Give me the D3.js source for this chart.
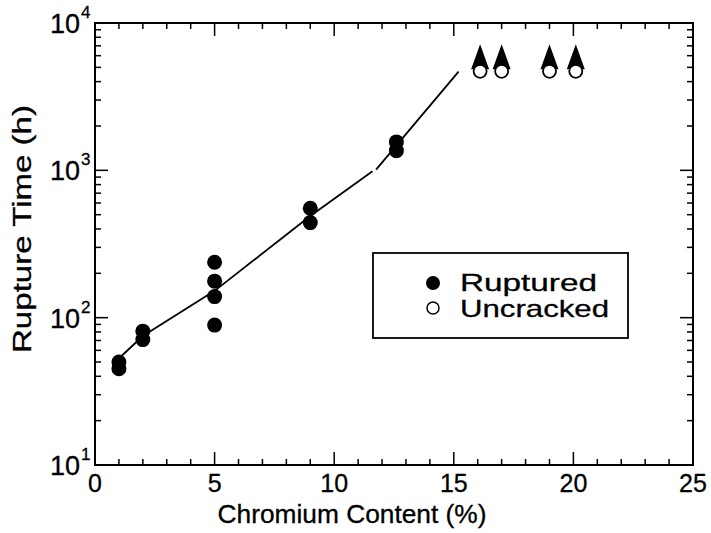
<!DOCTYPE html>
<html><head><meta charset="utf-8">
<script src="https://cdn.jsdelivr.net/npm/d3@7"></script>
<style>body{margin:0;background:#fff}svg{display:block}text{font-family:"Liberation Sans",Arial,Helvetica,sans-serif;fill:#000;stroke:#000;stroke-width:0.3px}</style>
</head><body><svg id="c" width="711" height="533"></svg>
<script>
// Data
const rupturedCr   = [1, 1, 2, 2, 5, 5, 5, 5, 9, 9, 12.6, 12.6];
const rupturedTime = [50, 45, 81, 71, 238, 177, 139, 89, 553, 442, 1560, 1360];
const uncrackedCr   = [16.1, 17.0, 19.0, 20.1];
const uncrackedTime = [4700, 4700, 4700, 4700];
const fitLine1Cr   = [0.95, 2, 5, 9, 11.6];
const fitLine1Time = [52, 75, 152, 490, 985];
const fitLine2Cr   = [11.75, 15.2];
const fitLine2Time = [1010, 4680];
const xTicks = [0, 5, 10, 15, 20, 25];
const yDecades = [1, 2, 3, 4];
const legendLabels = ["Ruptured", "Uncracked"];

const svg = d3.select("#c");
const L = 95, R = 693, T = 23, B = 465;
const x = d3.scaleLinear().domain([0, 25]).range([L, R]);
const y = d3.scaleLog().domain([10, 10000]).range([B, T]);

const g = svg.append("g");
g.append("rect").attr("x", L).attr("y", T).attr("width", R - L).attr("height", B - T)
  .attr("fill", "none").attr("stroke", "#000").attr("stroke-width", 2);

const xMinor = d3.range(0, 26, 1);
xMinor.forEach(v => {
  const major = v % 5 === 0;
  const len = major ? 13 : 6;
  g.append("line").attr("x1", x(v)).attr("x2", x(v)).attr("y1", B).attr("y2", B - len).attr("stroke", "#000").attr("stroke-width", 1.5);
  g.append("line").attr("x1", x(v)).attr("x2", x(v)).attr("y1", T).attr("y2", T + len).attr("stroke", "#000").attr("stroke-width", 1.5);
});
const yVals = [];
for (let d = 1; d < 4; d++) for (let m = 1; m < 10; m++) yVals.push(m * Math.pow(10, d));
yVals.push(10000);
yVals.forEach(v => {
  const major = Math.abs(Math.log10(v) - Math.round(Math.log10(v))) < 1e-9;
  const len = major ? 13 : 6;
  g.append("line").attr("x1", L).attr("x2", L + len).attr("y1", y(v)).attr("y2", y(v)).attr("stroke", "#000").attr("stroke-width", 1.5);
  g.append("line").attr("x1", R).attr("x2", R - len).attr("y1", y(v)).attr("y2", y(v)).attr("stroke", "#000").attr("stroke-width", 1.5);
});

xTicks.forEach(v => {
  g.append("text").attr("x", x(v)).attr("y", 492).attr("text-anchor", "middle")
    .attr("font-size", 25).text(v);
});
yDecades.forEach(e => {
  const yy = y(Math.pow(10, e));
  g.append("text").attr("x", 80).attr("y", yy + 10).attr("text-anchor", "end").attr("font-size", 27).text("10");
  g.append("text").attr("x", 81).attr("y", yy - 5).attr("font-size", 17).text(e);
});

g.append("text").attr("x", 352).attr("y", 523).attr("text-anchor", "middle").attr("font-size", 25)
  .attr("textLength", 269).attr("lengthAdjust", "spacingAndGlyphs").text("Chromium Content (%)");
g.append("text").attr("transform", "translate(31,229) rotate(-90)").attr("text-anchor", "middle").attr("font-size", 26)
  .attr("textLength", 248).attr("lengthAdjust", "spacingAndGlyphs").text("Rupture Time (h)");

const line = d3.line().x(d => x(d[0])).y(d => y(d[1]));
[[fitLine1Cr, fitLine1Time], [fitLine2Cr, fitLine2Time]].forEach(([cs, ts]) => {
  g.append("path").attr("d", line(cs.map((c, i) => [c, ts[i]]))).attr("fill", "none").attr("stroke", "#000").attr("stroke-width", 1.8);
});

g.selectAll(".rp").data(rupturedCr.map((c, i) => [c, rupturedTime[i]])).join("circle")
  .attr("cx", d => x(d[0])).attr("cy", d => y(d[1])).attr("r", 7.5).attr("fill", "#000");

const un = uncrackedCr.map((c, i) => [c, uncrackedTime[i]]);
un.forEach(d => {
  const cx = x(d[0]), cy = y(d[1]);
  g.append("path").attr("d", `M${cx},${cy - 27}L${cx + 9},${cy - 2}L${cx - 9},${cy - 2}Z`).attr("fill", "#000");
  g.append("circle").attr("cx", cx).attr("cy", cy).attr("r", 6.5).attr("fill", "#fff").attr("stroke", "#000").attr("stroke-width", 1.8);
});

const lg = g.append("g");
lg.append("rect").attr("x", 373).attr("y", 253).attr("width", 255).attr("height", 85).attr("fill", "#fff").attr("stroke", "#000").attr("stroke-width", 1.8);
lg.append("circle").attr("cx", 433).attr("cy", 283).attr("r", 7).attr("fill", "#000");
lg.append("circle").attr("cx", 433).attr("cy", 308).attr("r", 6).attr("fill", "#fff").attr("stroke", "#000").attr("stroke-width", 1.5);
lg.append("text").attr("x", 460).attr("y", 291).attr("font-size", 24)
  .attr("textLength", 137).attr("lengthAdjust", "spacingAndGlyphs").text(legendLabels[0]);
lg.append("text").attr("x", 460).attr("y", 317).attr("font-size", 24)
  .attr("textLength", 149).attr("lengthAdjust", "spacingAndGlyphs").text(legendLabels[1]);
</script></body></html>
